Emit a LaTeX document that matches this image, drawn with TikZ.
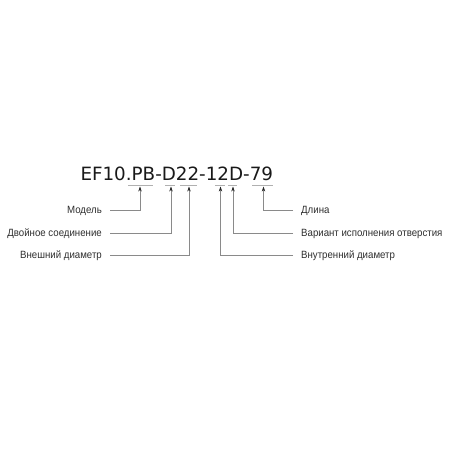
\documentclass[tikz,border=0pt]{standalone}
\usepackage{fontspec}
\setmainfont{DejaVu Sans}
\newfontfamily\lblfont{Liberation Sans}[FakeStretch=0.92]
\usetikzlibrary{arrows.meta}
\definecolor{txt}{HTML}{2E2E2E}
\definecolor{ln}{HTML}{8A8A8A}
\definecolor{ul}{HTML}{B0B0B0}
\tikzset{
  lbl/.style={inner sep=0pt, text height=8pt, text depth=2pt, text=txt,
    font=\lblfont\fontsize{10.5}{12}\selectfont},
  lead/.style={draw=ln, line width=0.6pt,
    -{Stealth[length=5pt,width=3.4pt,color=black!85]}},
  uline/.style={draw=ul, line width=0.7pt},
}
\begin{document}
\begin{tikzpicture}[x=1pt,y=-1pt]
\useasboundingbox (0,0) rectangle (460,460);
\node[anchor=base west, inner sep=0pt, text=black!90, font=\fontsize{18.3}{20}\selectfont] (code) at (80.3,180) {EF10.PB-D22-12D-79};
% underlines
\draw[uline] (128,185.5) -- (153,185.5);
\draw[uline] (165,185.5) -- (175,185.5);
\draw[uline] (180,185.5) -- (197,185.5);
\draw[uline] (215,185.5) -- (225,185.5);
\draw[uline] (228,185.5) -- (237,185.5);
\draw[uline] (252,185.5) -- (273,185.5);
% arrow tips
\coordinate (t1) at (140,186.5);
\coordinate (t2) at (171,186.5);
\coordinate (t3) at (189,186.5);
\coordinate (t4) at (220.5,186.5);
\coordinate (t5) at (233,186.5);
\coordinate (t6) at (263.5,186.5);
% left labels
\node[lbl, anchor=east] (m) at (102,210) {Модель};
\node[lbl, anchor=east] (d) at (102,233) {Двойное соединение};
\node[lbl, anchor=east] (v) at (102,255.5) {Внешний диаметр};
% right labels
\node[lbl, anchor=west] (l) at (301,210) {Длина};
\node[lbl, anchor=west] (o) at (301,233.5) {Вариант исполнения отверстия};
\node[lbl, anchor=west] (i) at (301,255.5) {Внутренний диаметр};
% leaders
\draw[lead] ([xshift=8pt]m.east) -| (t1);
\draw[lead] ([xshift=8pt]d.east) -| (t2);
\draw[lead] ([xshift=8pt]v.east) -| (t3);
\draw[lead] ([xshift=-8pt]l.west) -| (t6);
\draw[lead] ([xshift=-8pt]o.west) -| (t5);
\draw[lead] ([xshift=-8pt]i.west) -| (t4);
\end{tikzpicture}
\end{document}
